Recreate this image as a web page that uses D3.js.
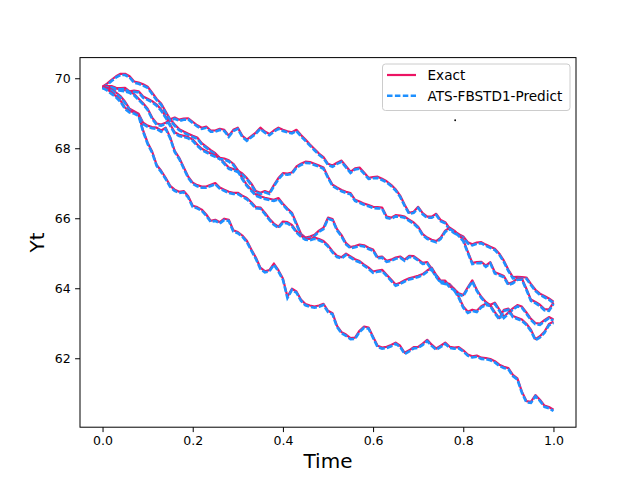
<!DOCTYPE html>
<html><head><meta charset="utf-8">
<script src="https://cdn.jsdelivr.net/npm/d3@7/dist/d3.min.js"></script>
<style>body{margin:0;background:#fff} text{font-family:"DejaVu Sans",sans-serif}</style>
</head><body><svg id="c" width="640" height="480"></svg>
<script>
// sample times: uniform grid t = 0, 0.01, ..., 1.00
const time = d3.range(101).map(i => i / 100);
const xTicks = [0.0, 0.2, 0.4, 0.6, 0.8, 1.0];
const yTicks = [62, 64, 66, 68, 70];
const seriesNames = ["Exact", "ATS-FBSTD1-Predict"];

const exact1 = [69.74,69.74,69.71,69.69,69.66,69.64,69.60,69.53,69.40,69.27,
69.11,68.86,68.69,68.66,68.71,68.81,68.86,68.80,68.83,68.84,
68.74,68.64,68.57,68.60,68.49,68.49,68.54,68.51,68.34,68.51,
68.57,68.34,68.23,68.33,68.43,68.57,68.46,68.39,68.49,68.57,
68.51,68.47,68.44,68.51,68.36,68.23,68.09,67.96,67.83,67.73,
67.54,67.49,67.57,67.63,67.47,67.31,67.41,67.43,67.29,67.14,
67.16,67.17,67.11,67.04,66.94,66.81,66.63,66.37,66.14,66.17,
66.31,66.13,66.03,66.03,66.11,65.93,65.87,65.69,65.59,65.53,
65.46,65.30,65.24,65.29,65.30,65.23,65.17,65.11,64.97,64.77,
64.51,64.30,64.31,64.30,64.29,64.11,63.94,63.83,63.76,63.69,
63.60];
const exact2 = [69.74,69.83,69.94,70.04,70.11,70.11,70.04,69.89,69.86,69.81,
69.74,69.57,69.39,69.26,69.03,68.81,68.66,68.53,68.46,68.40,
68.34,68.29,68.13,68.03,67.93,67.84,67.71,67.57,67.43,67.39,
67.34,67.26,67.13,66.97,66.76,66.71,66.76,66.71,66.93,67.13,
67.27,67.26,67.29,67.46,67.54,67.60,67.59,67.54,67.49,67.43,
67.17,66.94,66.86,66.79,66.74,66.70,66.51,66.46,66.40,66.36,
66.31,66.30,66.29,66.03,66.00,66.07,66.06,66.03,65.94,65.86,
65.74,65.53,65.43,65.37,65.33,65.43,65.63,65.71,65.63,65.51,
65.36,65.03,64.71,64.73,64.74,64.63,64.73,64.44,64.39,64.33,
64.11,64.16,64.26,64.26,63.97,63.66,63.59,63.51,63.39,63.37,
63.57];
const exact3 = [69.74,69.76,69.76,69.71,69.70,69.71,69.61,69.63,69.61,69.46,
69.40,69.33,69.23,69.09,68.89,68.66,68.44,68.37,68.34,68.30,
68.23,68.09,67.97,67.90,67.83,67.77,67.71,67.69,67.64,67.54,
67.36,67.13,66.94,66.80,66.66,66.61,66.57,66.54,66.51,66.56,
66.40,66.26,66.14,65.84,65.54,65.43,65.46,65.51,65.63,65.71,
66.00,65.96,65.67,65.50,65.27,65.16,65.19,65.23,65.21,65.14,
65.09,64.87,64.89,64.77,64.80,64.86,64.89,64.80,64.91,64.90,
64.81,64.71,64.73,64.54,64.34,64.17,64.14,64.10,63.96,63.74,
63.46,63.31,63.37,63.34,63.47,63.54,63.51,63.57,63.37,63.17,
63.29,63.41,63.50,63.46,63.29,63.11,62.99,62.97,63.07,63.16,
63.09];
const exact4 = [69.74,69.70,69.66,69.57,69.47,69.31,69.11,69.04,68.97,68.71,
68.63,68.59,68.57,68.49,68.57,68.30,67.91,67.71,67.44,67.17,
67.00,66.93,66.89,66.89,66.94,66.99,66.86,66.80,66.74,66.71,
66.71,66.63,66.56,66.44,66.30,66.29,66.14,65.97,65.83,65.74,
65.89,65.87,65.79,65.61,65.49,65.40,65.39,65.43,65.39,65.33,
65.21,65.04,64.91,64.87,64.97,64.89,64.81,64.76,64.66,64.57,
64.46,64.49,64.51,64.37,64.23,64.09,64.14,64.21,64.27,64.30,
64.34,64.39,64.49,64.57,64.36,64.20,64.20,64.04,63.96,63.84,
63.79,64.01,64.21,63.94,63.74,63.59,63.50,63.30,63.13,63.37,
63.40,63.19,63.14,63.09,62.97,62.80,62.53,62.61,62.74,62.96,
63.03];
const exact5 = [69.74,69.67,69.57,69.47,69.34,69.14,69.04,69.01,68.94,68.49,
68.14,67.89,67.51,67.34,67.14,66.91,66.80,66.74,66.76,66.61,
66.34,66.30,66.23,66.09,65.91,65.94,65.87,65.97,65.94,65.64,
65.59,65.49,65.34,65.09,64.86,64.57,64.47,64.50,64.69,64.50,
64.26,63.74,63.97,63.89,63.66,63.53,63.49,63.46,63.49,63.54,
63.34,63.27,62.91,62.73,62.66,62.56,62.57,62.77,62.89,62.86,
62.60,62.34,62.29,62.31,62.36,62.43,62.34,62.14,62.21,62.30,
62.31,62.40,62.51,62.37,62.26,62.34,62.43,62.31,62.29,62.30,
62.21,62.09,62.04,62.06,62.00,61.99,61.96,61.90,61.80,61.74,
61.70,61.51,61.41,61.03,60.76,60.74,60.93,60.80,60.63,60.59,
60.51];
const exactPaths = [exact1, exact2, exact3, exact4, exact5];
// the predicted curves coincide with the exact ones at the picture's resolution
const predictPaths = [exact1, exact2, exact3, exact4, exact5];
const strayPoint = [0.782, 68.8];

const RED = "#ec1463", BLUE = "#1e90ff";
const L = 80, R = 576, T = 57.6, B = 427.2;
const svg = d3.select("#c");
const x = d3.scaleLinear().domain([-0.05, 1.05]).range([L, R]);
const ext = d3.extent(exactPaths.flat());
const pad = (ext[1] - ext[0]) * 0.05;
const y = d3.scaleLinear().domain([ext[0] - pad, ext[1] + pad]).range([B, T]);

const line = d3.line().x((d, i) => x(time[i])).y(d => y(d));
const plot = svg.append("g");
exactPaths.forEach((p, k) => {
  plot.append("path").attr("d", line(p)).attr("fill", "none")
    .attr("stroke", RED).attr("stroke-width", 2.2).attr("stroke-linejoin", "round")
    .attr("transform", "translate(0,-0.6)");
  plot.append("path").attr("d", line(predictPaths[k])).attr("fill", "none")
    .attr("stroke", BLUE).attr("stroke-width", 2.6).attr("stroke-dasharray", "6,2")
    .attr("transform", "translate(0,0.6)");
});
svg.append("circle").attr("cx", x(strayPoint[0])).attr("cy", y(strayPoint[1])).attr("r", 0.9).attr("fill", "#000");

// axes
const xa = svg.append("g").attr("transform", `translate(0,${B})`)
  .call(d3.axisBottom(x).tickValues(xTicks).tickFormat(d3.format(".1f")).tickSize(4.9).tickPadding(4.5));
const ya = svg.append("g").attr("transform", `translate(${L},0)`)
  .call(d3.axisLeft(y).tickValues(yTicks).tickFormat(d3.format("d")).tickSize(4.9).tickPadding(4.5));
[xa, ya].forEach(a => {
  a.select(".domain").remove();
  a.selectAll("line").attr("stroke", "#000").attr("stroke-width", 1);
  a.selectAll("text").attr("font-size", "12.5px").attr("fill", "#000").attr("font-family", "DejaVu Sans");
});
svg.append("rect").attr("x", L).attr("y", T).attr("width", R - L).attr("height", B - T)
  .attr("fill", "none").attr("stroke", "#000").attr("stroke-width", 1);

svg.append("text").attr("x", (L + R) / 2).attr("y", 468).attr("text-anchor", "middle")
  .attr("font-size", "20px").text("Time");
svg.append("text").attr("transform", `translate(44,${(T + B) / 2}) rotate(-90)`).attr("text-anchor", "middle")
  .attr("font-size", "20px").text("Yt");

// legend
const lg = svg.append("g");
lg.append("rect").attr("x", 382.5).attr("y", 64).attr("width", 187.5).attr("height", 46.5).attr("rx", 3)
  .attr("fill", "#fff").attr("fill-opacity", 0.8).attr("stroke", "#cccccc").attr("stroke-width", 1);
const rows = [{c: RED, dash: null, w: 2.2}, {c: BLUE, dash: "5.5,2.4", w: 2.6}];
seriesNames.forEach((n, i) => {
  const cy = 75 + i * 20.7;
  lg.append("line").attr("x1", 387).attr("x2", 416).attr("y1", cy).attr("y2", cy)
    .attr("stroke", rows[i].c).attr("stroke-width", rows[i].w).attr("stroke-dasharray", rows[i].dash);
  lg.append("text").attr("x", 427.5).attr("y", cy).attr("dy", "0.36em").attr("font-size", "13.6px").text(n);
});
</script></body></html>
